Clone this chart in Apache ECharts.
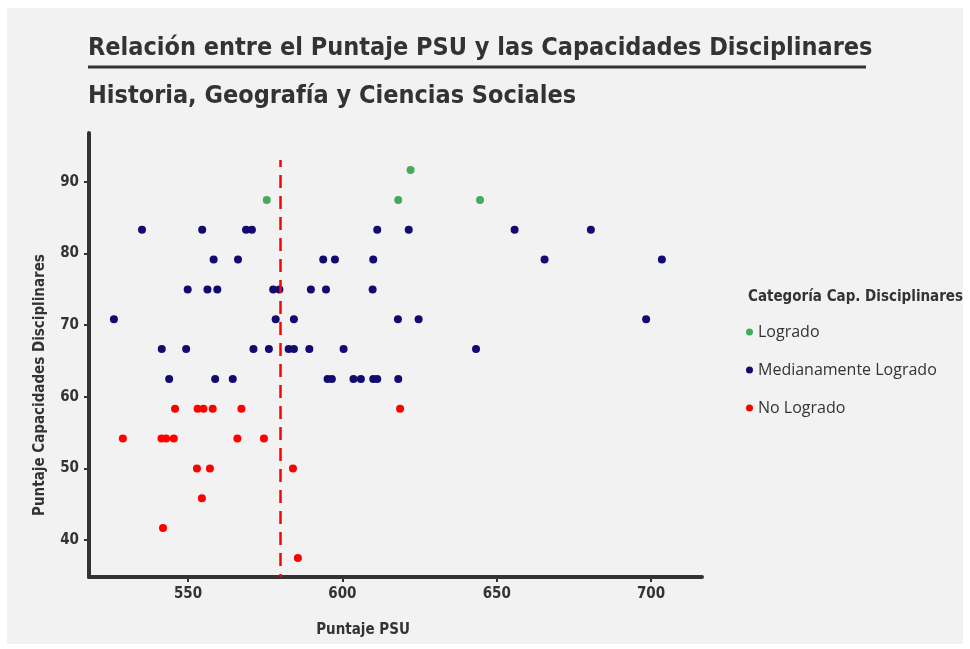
<!DOCTYPE html>
<html lang="es">
<head>
    <meta charset="UTF-8">
    <title>Puntaje PSU vs Capacidades Disciplinares</title>
    <script src="https://cdn.jsdelivr.net/npm/echarts@6/dist/echarts.min.js"></script>
    <style>
        html, body { margin: 0; padding: 0; background: #ffffff; }
        #main { width: 970px; height: 649px; }
    </style>
</head>
<body>
<div id="main"></div>
<script>
    // datos
    var categorias = ['Logrado', 'Medianamente Logrado', 'No Logrado'];
    var colores = ['#43ab5b', '#120a70', '#ff0000'];

    var logradoPSU = [575.5, 622.1, 618.1, 644.6];
    var logradoCap = [87.5, 91.67, 87.5, 87.5];

    var medioPSU = [
        535.1, 554.6, 568.8, 570.7, 611.3, 621.5, 655.8, 680.5,
        558.3, 566.2, 593.8, 597.6, 610.0, 665.5, 703.5,
        549.9, 556.3, 559.5, 577.6, 579.6, 589.8, 594.7, 609.8,
        526.0, 578.4, 584.3, 618.0, 624.7, 698.4,
        541.5, 549.4, 571.2, 576.2, 582.6, 584.3, 589.3, 600.4, 643.3,
        543.9, 558.8, 564.5, 595.2, 596.6, 603.6, 606.0, 610.0, 611.3, 618.1
    ];
    var medioCap = [
        83.33, 83.33, 83.33, 83.33, 83.33, 83.33, 83.33, 83.33,
        79.17, 79.17, 79.17, 79.17, 79.17, 79.17, 79.17,
        75, 75, 75, 75, 75, 75, 75, 75,
        70.83, 70.83, 70.83, 70.83, 70.83, 70.83,
        66.67, 66.67, 66.67, 66.67, 66.67, 66.67, 66.67, 66.67, 66.67,
        62.5, 62.5, 62.5, 62.5, 62.5, 62.5, 62.5, 62.5, 62.5, 62.5
    ];

    var noLogradoPSU = [
        545.8, 553.1, 555.0, 558.0, 567.3, 618.7,
        528.9, 541.4, 542.9, 545.4, 566.0, 574.6,
        552.9, 557.1, 584.0,
        554.5,
        541.9,
        585.6
    ];
    var noLogradoCap = [
        58.33, 58.33, 58.33, 58.33, 58.33, 58.33,
        54.17, 54.17, 54.17, 54.17, 54.17, 54.17,
        50, 50, 50,
        45.83,
        41.67,
        37.5
    ];

    var ticksX = [550, 600, 650, 700];
    var ticksY = [40, 50, 60, 70, 80, 90];
    var lineaCorte = 580;
    var lineaCorteY = [93.07, 34.84];

    function pares(xs, ys) {
        var out = [];
        for (var i = 0; i < xs.length; i++) {
            out.push([xs[i], ys[i]]);
        }
        return out;
    }

    var fuenteAngosta = "'Liberation Sans Narrow', 'DejaVu Sans Condensed', 'Roboto', sans-serif";
    var fuenteNormal = "'Open Sans', 'Noto Sans', sans-serif";

    var myChart = echarts.init(document.getElementById('main'));

    var option = {
        backgroundColor: '#ffffff',
        animation: false,
        title: [
            {
                text: 'Relación entre el Puntaje PSU y las Capacidades Disciplinares',
                left: 83, top: 31,
                textStyle: { fontFamily: fuenteAngosta, fontSize: 25, fontWeight: 'bold', color: '#333333' }
            },
            {
                text: 'Historia, Geografía y Ciencias Sociales',
                left: 83, top: 79,
                textStyle: { fontFamily: fuenteAngosta, fontSize: 25, fontWeight: 'bold', color: '#333333' }
            },
            {
                text: 'Categoría Cap. Disciplinares',
                left: 743, top: 285,
                textStyle: { fontFamily: fuenteAngosta, fontSize: 15, fontWeight: 'bold', color: '#333333' }
            }
        ],
        graphic: [
            {
                type: 'rect', z: -10, silent: true,
                shape: { x: 7, y: 8, width: 956, height: 636 },
                style: { fill: '#f2f2f2' }
            },
            {
                type: 'line', silent: true,
                shape: { x1: 88, y1: 67, x2: 866, y2: 67 },
                style: { stroke: '#333333', lineWidth: 3 }
            },
            {
                type: 'text', silent: true,
                x: 363, y: 630,
                style: {
                    text: 'Puntaje PSU', align: 'center', verticalAlign: 'middle',
                    fontFamily: fuenteAngosta, fontSize: 15, fontWeight: 'bold', fill: '#333333'
                }
            },
            {
                type: 'text', silent: true,
                x: 40, y: 385, rotation: Math.PI / 2,
                style: {
                    text: 'Puntaje Capacidades Disciplinares', align: 'center', verticalAlign: 'middle',
                    fontFamily: fuenteAngosta, fontSize: 15, fontWeight: 'bold', fill: '#333333'
                }
            }
        ],
        legend: {
            orient: 'vertical',
            left: 741, top: 319,
            icon: 'circle',
            itemWidth: 7, itemHeight: 7,
            itemGap: 22,
            data: categorias,
            textStyle: { fontFamily: fuenteNormal, fontSize: 16, color: '#333333' }
        },
        grid: { left: 89, right: 268, top: 133, bottom: 72 },
        xAxis: {
            type: 'value',
            min: 517.93, max: 716.5,
            splitLine: { show: false },
            axisLine: { show: true, lineStyle: { color: '#333333', width: 4 } },
            axisTick: { show: true, customValues: ticksX, length: 5, lineStyle: { color: '#333333', width: 2 } },
            axisLabel: {
                customValues: ticksX, margin: 10,
                fontFamily: fuenteAngosta, fontSize: 15, fontWeight: 'bold', color: '#333333'
            }
        },
        yAxis: {
            type: 'value',
            min: 34.84, max: 96.84,
            splitLine: { show: false },
            axisLine: { show: true, lineStyle: { color: '#333333', width: 4 } },
            axisTick: { show: true, customValues: ticksY, length: 5, lineStyle: { color: '#333333', width: 2 } },
            axisLabel: {
                customValues: ticksY, margin: 10,
                fontFamily: fuenteAngosta, fontSize: 15, fontWeight: 'bold', color: '#333333'
            }
        },
        series: [
            {
                name: categorias[0], type: 'scatter', symbolSize: 8,
                itemStyle: { color: colores[0], opacity: 1 },
                data: pares(logradoPSU, logradoCap)
            },
            {
                name: categorias[1], type: 'scatter', symbolSize: 8,
                itemStyle: { color: colores[1], opacity: 1 },
                data: pares(medioPSU, medioCap)
            },
            {
                name: categorias[2], type: 'scatter', symbolSize: 8,
                itemStyle: { color: colores[2], opacity: 1 },
                data: pares(noLogradoPSU, noLogradoCap),
                markLine: {
                    silent: true,
                    symbol: 'none',
                    label: { show: false },
                    lineStyle: { color: '#ff0000', width: 2.5, type: [13, 8], dashOffset: 6 },
                    data: [[
                        { coord: [lineaCorte, lineaCorteY[0]] },
                        { coord: [lineaCorte, lineaCorteY[1]] }
                    ]]
                }
            }
        ]
    };

    myChart.setOption(option);
</script>
</body>
</html>
